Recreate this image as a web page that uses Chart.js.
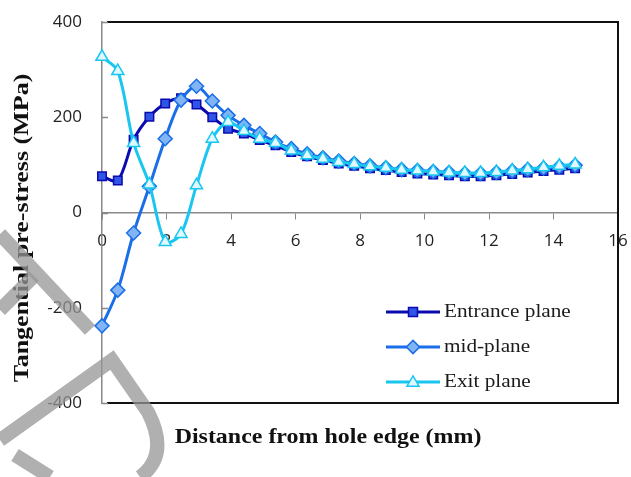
<!DOCTYPE html>
<html>
<head>
<meta charset="utf-8">
<title>Tangential pre-stress</title>
<script src="https://cdn.jsdelivr.net/npm/chart.js@4.4.1/dist/chart.umd.min.js"></script>
<style>
  html, body { margin: 0; padding: 0; background: #fff; }
  #wrap { width: 631px; height: 477px; }
</style>
</head>
<body>
<div id="wrap"><canvas id="stressChart" width="631" height="477"></canvas></div>
<script>
// distance from hole edge (mm)
const distance = [0, 0.49, 0.98, 1.47, 1.96, 2.45, 2.93, 3.42, 3.91, 4.40, 4.89, 5.38, 5.87, 6.36, 6.85, 7.34,
    7.82, 8.31, 8.80, 9.29, 9.78, 10.27, 10.76, 11.25, 11.74, 12.23, 12.72, 13.20, 13.69, 14.18, 14.67];

// tangential pre-stress (MPa) per plane
const entrancePlane = [76, 67, 153, 201, 229, 240, 227, 200, 176, 166, 152, 141, 127, 118, 110, 103,
    98, 93, 89, 85, 82, 80, 78, 76, 76, 78, 81, 84, 87, 90, 93];
const midPlane = [-238, -163, -43, 55, 155, 236, 265, 234, 204, 183, 166, 148, 134, 123, 115, 108,
    103, 98, 94, 90, 88, 86, 84, 82, 82, 84, 87, 90, 93, 96, 99];
const exitPlane = [327, 297, 146, 59, -62, -45, 57, 155, 190, 171, 155, 146, 130, 120, 113, 106,
    102, 97, 94, 90, 88, 86, 84, 83, 83, 85, 88, 91, 95, 98, 101];

const xTicks = [0, 2, 4, 6, 8, 10, 12, 14, 16];
const yTicks = [-400, -200, 0, 200, 400];

const toPoints = (ys) => ys.map((y, i) => ({ x: distance[i], y: y }));

function drawMarker(ctx, style, x, y, r) {
    if (style === "rect") {
        ctx.rect(x - r, y - r, 2 * r, 2 * r);
    } else if (style === "rectRot") {
        ctx.moveTo(x, y - r * 1.2);
        ctx.lineTo(x + r * 1.2, y);
        ctx.lineTo(x, y + r * 1.2);
        ctx.lineTo(x - r * 1.2, y);
        ctx.closePath();
    } else {
        ctx.moveTo(x, y - r * 1.1);
        ctx.lineTo(x + r * 1.1, y + r * 0.75);
        ctx.lineTo(x - r * 1.1, y + r * 0.75);
        ctx.closePath();
    }
}

// stretched text, used for the serif titles and legend
function wideText(ctx, text, x, y, sx) {
    ctx.save();
    ctx.translate(x, y);
    ctx.scale(sx, 1);
    ctx.fillText(text, 0, 0);
    ctx.restore();
}

// box lines, titles, legend and the watermark strokes
const decorations = {
    id: "decorations",
    afterDraw(chart) {
        const ctx = chart.ctx;
        const a = chart.chartArea;
        const yScale = chart.scales.y;
        ctx.save();

        ctx.strokeStyle = "#111";
        ctx.lineWidth = 2;
        ctx.beginPath();
        ctx.moveTo(a.left + 5, a.top);
        ctx.lineTo(a.right, a.top);
        ctx.lineTo(a.right, a.bottom);
        ctx.lineTo(a.left + 5, a.bottom);
        ctx.stroke();

        // short inward ticks on the value axis
        ctx.strokeStyle = "#888";
        ctx.lineWidth = 1.5;
        ctx.beginPath();
        yTicks.forEach(v => {
            const py = Math.round(yScale.getPixelForValue(v)) + 0.5;
            ctx.moveTo(a.left, py);
            ctx.lineTo(a.left + 6, py);
        });
        ctx.stroke();

        // legend
        const rows = [312, 347, 382];
        chart.data.datasets.forEach((ds, i) => {
            const y = rows[i];
            ctx.strokeStyle = ds.borderColor;
            ctx.lineWidth = 3;
            ctx.beginPath();
            ctx.moveTo(386, y);
            ctx.lineTo(440, y);
            ctx.stroke();
            ctx.fillStyle = ds.pointBackgroundColor;
            ctx.strokeStyle = ds.pointBorderColor;
            ctx.lineWidth = 1.5;
            ctx.beginPath();
            drawMarker(ctx, ds.pointStyle, 413, y, ds.pointRadius - 1.5);
            ctx.fill();
            ctx.stroke();
            ctx.fillStyle = "#1a1a1a";
            ctx.font = "18px 'Liberation Serif'";
            ctx.textBaseline = "middle";
            ctx.textAlign = "left";
            wideText(ctx, ds.label, 444, y, 1.18);
        });

        // axis titles
        ctx.fillStyle = "#111";
        ctx.font = "bold 21px 'Liberation Serif'";
        ctx.textAlign = "center";
        ctx.textBaseline = "middle";
        wideText(ctx, "Distance from hole edge (mm)", 328, 438, 1.14);
        ctx.save();
        ctx.translate(23, 228);
        ctx.rotate(-Math.PI / 2);
        ctx.font = "bold 20px 'Liberation Serif'";
        wideText(ctx, "Tangential pre-stress (MPa)", 0, 0, 1.3);
        ctx.restore();

        // draft watermark
        ctx.strokeStyle = "rgba(150,150,150,0.75)";
        ctx.lineWidth = 14;
        ctx.lineCap = "butt";
        ctx.lineJoin = "miter";
        ctx.beginPath();
        ctx.moveTo(0, 234);
        ctx.lineTo(90, 330);
        ctx.stroke();
        ctx.beginPath();
        ctx.moveTo(0, 310);
        ctx.lineTo(34, 276);
        ctx.stroke();
        ctx.beginPath();
        ctx.moveTo(0, 440);
        ctx.lineTo(112, 360);
        ctx.lineTo(148, 412);
        ctx.quadraticCurveTo(170, 455, 140, 477);
        ctx.stroke();
        ctx.beginPath();
        ctx.moveTo(15, 455);
        ctx.lineTo(50, 477);
        ctx.stroke();

        ctx.restore();
    }
};

const ctx = document.getElementById("stressChart");

new Chart(ctx, {
    type: "line",
    data: {
        datasets: [
            {
                label: "Entrance plane",
                data: toPoints(entrancePlane),
                borderColor: "#0a0ab0",
                borderWidth: 3,
                pointStyle: "rect",
                pointRadius: 6,
                pointBackgroundColor: "#2f55e6",
                pointBorderColor: "#0a0ab0",
                pointBorderWidth: 1.5,
                tension: 0.3,
                clip: false,
                order: 2
            },
            {
                label: "mid-plane",
                data: toPoints(midPlane),
                borderColor: "#1a6ee8",
                borderWidth: 3,
                pointStyle: "rectRot",
                pointRadius: 7,
                pointBackgroundColor: "#80b4f2",
                pointBorderColor: "#1a6ee8",
                pointBorderWidth: 1.5,
                tension: 0.3,
                clip: false,
                order: 1
            },
            {
                label: "Exit plane",
                data: toPoints(exitPlane),
                borderColor: "#18c6f0",
                borderWidth: 3,
                pointStyle: "triangle",
                pointRadius: 7,
                pointBackgroundColor: "#e0f8ff",
                pointBorderColor: "#18c6f0",
                pointBorderWidth: 1.5,
                tension: 0.3,
                clip: false,
                order: 0
            }
        ]
    },
    options: {
        responsive: false,
        animation: false,
        layout: {
            padding: { top: 22, right: 13, bottom: 74, left: 0 }
        },
        plugins: {
            legend: { display: false },
            tooltip: { enabled: false }
        },
        scales: {
            x: {
                type: "linear",
                min: 0,
                max: 16,
                position: { y: 0 },
                afterBuildTicks: (scale) => {
                    scale.ticks = xTicks.map(v => ({ value: v }));
                },
                afterFit: (scale) => {
                    // keep the edge labels from shrinking the plot box
                    scale.paddingLeft = 0;
                    scale.paddingRight = 0;
                },
                ticks: {
                    font: { family: "'Open Sans'", size: 17 },
                    color: "#222",
                    padding: 12,
                    maxRotation: 0
                },
                grid: {
                    drawOnChartArea: false,
                    tickLength: 6,
                    color: "#888"
                },
                border: { color: "#888", width: 1.5 }
            },
            y: {
                min: -400,
                max: 400,
                afterBuildTicks: (scale) => {
                    scale.ticks = yTicks.map(v => ({ value: v }));
                },
                afterFit: (scale) => {
                    scale.width = 102;
                    scale.paddingTop = 0;
                    scale.paddingBottom = 0;
                },
                ticks: {
                    font: { family: "'Open Sans'", size: 17 },
                    color: "#222",
                    padding: 20
                },
                grid: {
                    drawOnChartArea: false,
                    drawTicks: false,
                    color: "#888"
                },
                border: { color: "#888", width: 1.5 }
            }
        }
    },
    plugins: [decorations]
});
</script>
</body>
</html>
